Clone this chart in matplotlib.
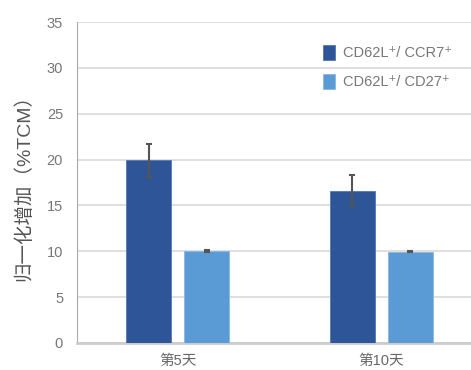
import numpy as np
import matplotlib.pyplot as plt

plt.rcParams['font.family'] = ['Liberation Sans', 'Noto Sans CJK SC', 'DejaVu Sans']

categories = ["第5天", "第10天"]
series_names = ["CD62L\u207a/ CCR7\u207a", "CD62L\u207a/ CD27\u207a"]
ccr7 = [19.9, 16.6]
ccr7_err = [1.8, 1.7]
cd27 = [10.05, 9.95]
cd27_err = [0.1, 0.08]

fig = plt.figure(figsize=(4.71, 3.70), dpi=100)
ax = fig.add_axes([0.1635, 0.073, 0.8365, 0.8675])

x = np.arange(len(categories))
w = 0.221
off = 0.1425
ax.bar(x - off, ccr7, w, color="#2E5597", edgecolor="#5577b0", linewidth=0.6,
       yerr=ccr7_err, error_kw=dict(ecolor="#555555", elinewidth=1.5, capsize=2, capthick=1.5),
       label=series_names[0], zorder=3)
ax.bar(x + off, cd27, w, color="#5B9BD5", edgecolor="#8ab8e3", linewidth=0.6,
       yerr=cd27_err, error_kw=dict(ecolor="#555555", elinewidth=1.5, capsize=2, capthick=1.5),
       label=series_names[1], zorder=3)

ax.set_xlim(-0.494, 1.44)
ax.set_ylim(0, 35)
ax.set_yticks(range(0, 36, 5))
ax.set_xticks(x)
ax.set_xticklabels(categories)
ax.yaxis.grid(True, color="#d9d9d9", linewidth=1.2, zorder=0)
ax.set_axisbelow(True)

for s in ["top", "right"]:
    ax.spines[s].set_visible(False)
ax.spines["left"].set_color("#aaaaaa")
ax.spines["bottom"].set_color("#cccccc")
ax.spines["bottom"].set_linewidth(2)
ax.tick_params(axis="y", length=0, labelsize=10.5, labelcolor="#777777", pad=10)
ax.tick_params(axis="x", length=0, labelsize=10.5, labelcolor="#666666", pad=8)

ax.set_ylabel("归一化增加（%TCM）", fontsize=14, color="#555555", labelpad=10)

leg = ax.legend(loc="upper left", bbox_to_anchor=(0.59, 0.97), frameon=False,
                fontsize=10.5, handlelength=0.85, handleheight=1.2, labelspacing=0.95,
                handletextpad=0.55)
for t in leg.get_texts():
    t.set_color("#777777")

fig.savefig("out.png", dpi=100)
